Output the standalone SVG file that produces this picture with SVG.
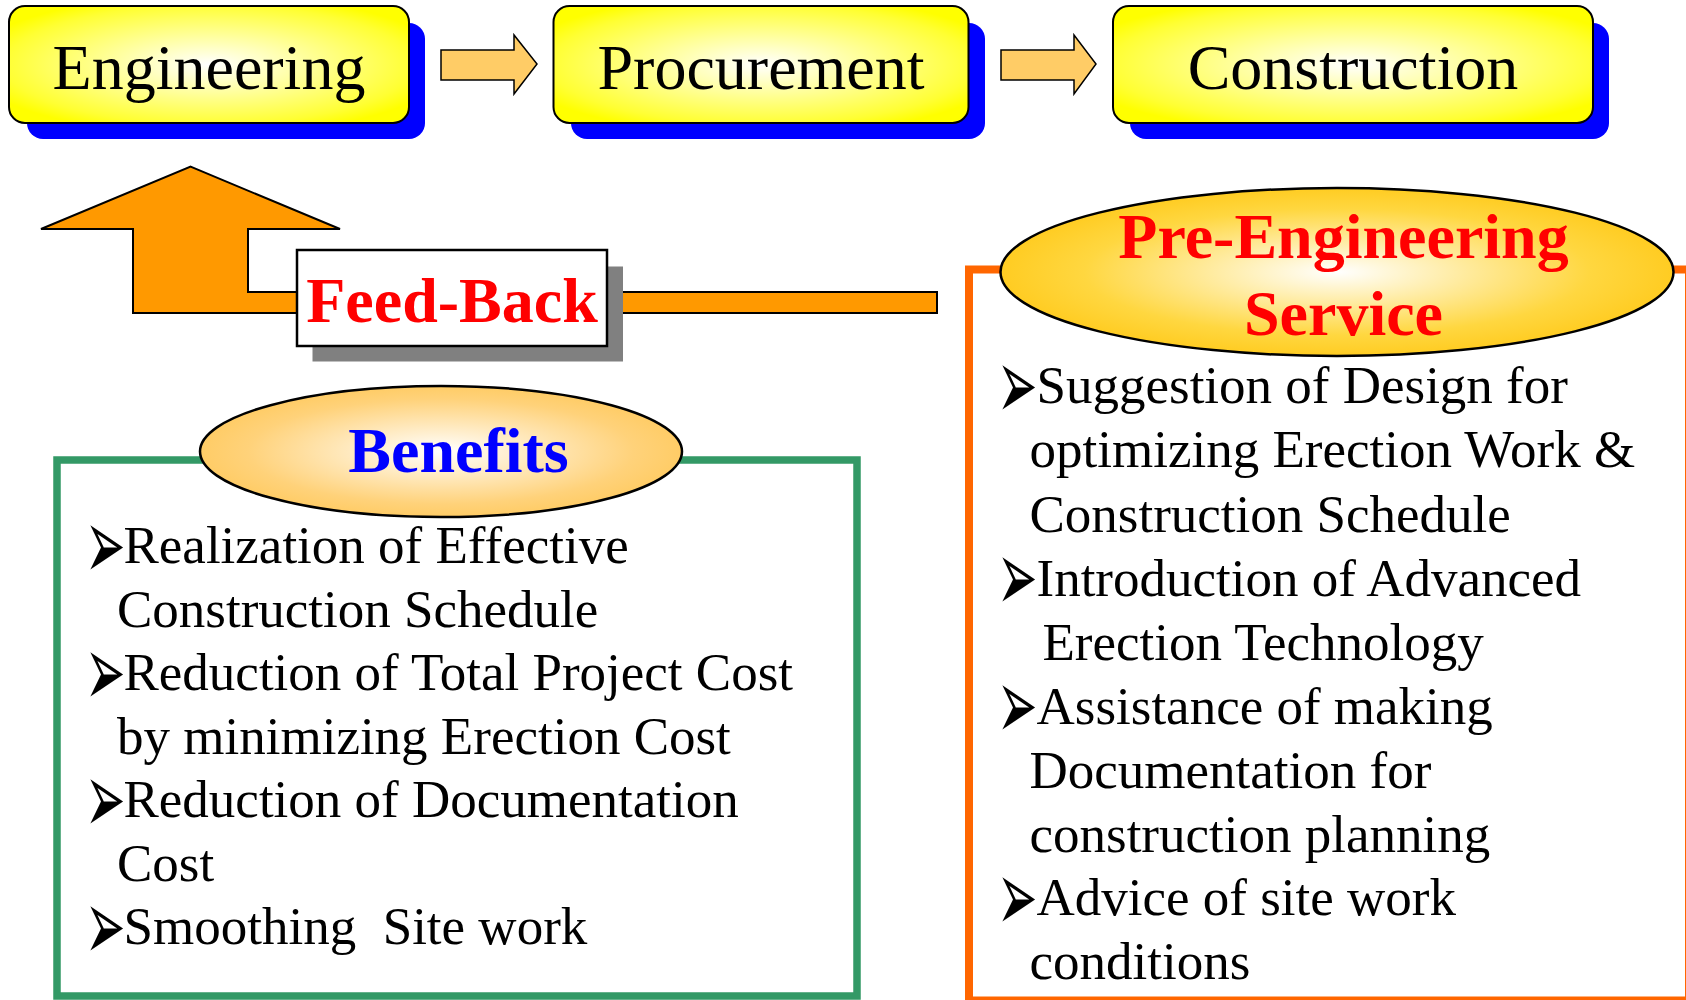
<svg xmlns="http://www.w3.org/2000/svg" width="1686" height="1000" viewBox="0 0 1686 1000">
<defs>
<radialGradient id="gy" cx="0.5" cy="0.5" r="0.6">
<stop offset="0" stop-color="#FFFFFF"/>
<stop offset="0.85" stop-color="#FFFF33"/>
<stop offset="1" stop-color="#FFFF00"/>
</radialGradient>
<radialGradient id="gpre" cx="0.5" cy="0.5" r="0.5">
<stop offset="0" stop-color="#FFFFFF"/>
<stop offset="0.75" stop-color="#FFD740"/>
<stop offset="1" stop-color="#FFCC22"/>
</radialGradient>
<radialGradient id="gben" cx="0.5" cy="0.5" r="0.5">
<stop offset="0" stop-color="#FFFFFF"/>
<stop offset="0.8" stop-color="#FFD27A"/>
<stop offset="1" stop-color="#FFCC66"/>
</radialGradient>
<style>
.box{fill:url(#gy);stroke:#000;stroke-width:2}
.shadow{fill:#0000FF}
.ttl{font-family:"Liberation Serif","Times New Roman",serif;font-size:64px;fill:#000;text-anchor:middle}
.hd{font-family:"Liberation Serif","Times New Roman",serif;font-size:64px;font-weight:bold;text-anchor:middle}
.body{font-family:"Liberation Serif","Times New Roman",serif;font-size:53px;fill:#000}
.bul{font-family:"DejaVu Sans",sans-serif;font-size:42px;fill:#000}
.rarr{fill:#FFCC66;stroke:#000;stroke-width:1.5}
</style>
</defs>

<g id="engineering">
<rect class="shadow" x="27" y="23" width="398" height="116" rx="16"/>
<rect class="box" x="9" y="6" width="400" height="117" rx="16"/>
<text class="ttl" x="209" y="89">Engineering</text>
</g>
<g id="procurement">
<rect class="shadow" x="571" y="23" width="414" height="116" rx="16"/>
<rect class="box" x="553.5" y="6" width="415" height="117" rx="16"/>
<text class="ttl" x="761" y="89">Procurement</text>
</g>
<g id="construction">
<rect class="shadow" x="1130" y="23" width="479" height="116" rx="16"/>
<rect class="box" x="1113" y="6" width="480" height="117" rx="16"/>
<text class="ttl" x="1353" y="89">Construction</text>
</g>

<g id="connectors">
<polygon class="rarr" points="441,50 514,50 514,35 537,64 514,94 514,80 441,80"/>
<polygon class="rarr" points="1001,50 1074,50 1074,35 1096,64 1074,94 1074,80 1001,80"/>
<polygon fill="#FF9900" stroke="#000" stroke-width="2" points="190.6,166.7 340,229 248,229 248,292 937,292 937,313 133,313 133,229 41,229"/>
</g>

<g id="feedback">
<rect x="312.5" y="266.5" width="310.5" height="95" fill="#808080"/>
<rect x="297" y="250" width="310" height="96" fill="#FFFFFF" stroke="#000" stroke-width="2.5"/>
<text class="hd" x="452" y="321.5" fill="#FF0000">Feed-Back</text>
</g>

<g id="pre-engineering">
<rect x="969" y="269.5" width="720" height="731" fill="none" stroke="#FF6600" stroke-width="8"/>
<ellipse cx="1337" cy="272" rx="336.5" ry="84" fill="url(#gpre)" stroke="#000" stroke-width="2.5"/>
<text class="hd" x="1343.5" y="258" fill="#FF0000">Pre-Engineering</text>
<text class="hd" x="1343.5" y="335" fill="#FF0000">Service</text>
<text class="bul" transform="translate(997,385.3) scale(1.15,2.4)" y="14">➢</text>
<text class="body" x="1036.5" y="403.3">Suggestion of Design for</text>
<text class="body" x="1029.5" y="467.3">optimizing Erection Work &amp;</text>
<text class="body" x="1029.5" y="531.5">Construction Schedule</text>
<text class="bul" transform="translate(997,577.6) scale(1.15,2.4)" y="14">➢</text>
<text class="body" x="1036.5" y="595.6">Introduction of Advanced</text>
<text class="body" x="1042.5" y="659.6">Erection Technology</text>
<text class="bul" transform="translate(997,705.5) scale(1.15,2.4)" y="14">➢</text>
<text class="body" x="1036.5" y="723.5">Assistance of making</text>
<text class="body" x="1029.5" y="787.5">Documentation for</text>
<text class="body" x="1029.5" y="851.6">construction planning</text>
<text class="bul" transform="translate(997,897) scale(1.15,2.4)" y="14">➢</text>
<text class="body" x="1036.5" y="915">Advice of site work</text>
<text class="body" x="1029.5" y="978.5">conditions</text>
</g>

<g id="benefits">
<rect x="57" y="460" width="800" height="536" fill="none" stroke="#339966" stroke-width="7.5"/>
<ellipse cx="441" cy="451.5" rx="241" ry="65.5" fill="url(#gben)" stroke="#000" stroke-width="2.5"/>
<text class="hd" x="458.5" y="471.5" fill="#0000FF">Benefits</text>
<text class="bul" transform="translate(85,545.3) scale(1.15,2.4)" y="14">➢</text>
<text class="body" x="123.5" y="563.3">Realization of Effective</text>
<text class="body" x="117" y="626.8">Construction Schedule</text>
<text class="bul" transform="translate(85,672.3) scale(1.15,2.4)" y="14">➢</text>
<text class="body" x="123.5" y="690.3">Reduction of Total Project Cost</text>
<text class="body" x="117" y="753.8">by minimizing Erection Cost</text>
<text class="bul" transform="translate(85,799.3) scale(1.15,2.4)" y="14">➢</text>
<text class="body" x="123.5" y="817.3">Reduction of Documentation</text>
<text class="body" x="117" y="880.8">Cost</text>
<text class="bul" transform="translate(85,926.3) scale(1.15,2.4)" y="14">➢</text>
<text class="body" x="123.5" y="944.3" xml:space="preserve">Smoothing  Site work</text>
</g>
</svg>
